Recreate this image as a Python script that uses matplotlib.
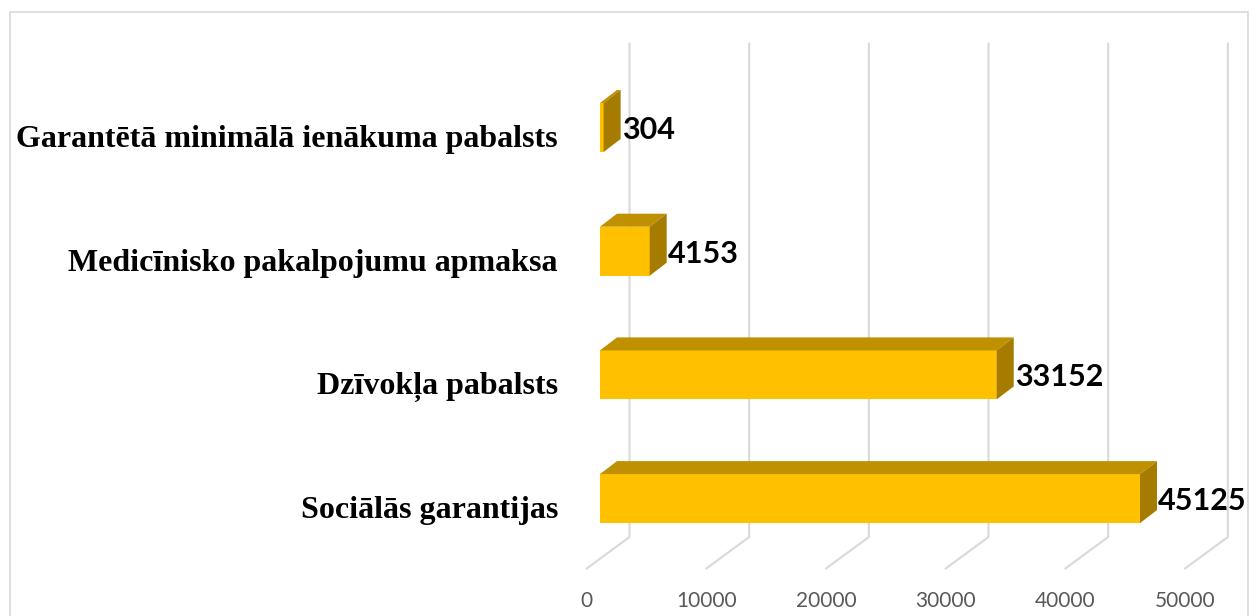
import matplotlib
matplotlib.use("Agg")
import matplotlib.pyplot as plt
from matplotlib.patches import Rectangle, Polygon

# ---- data ----
categories = ["Sociālās garantijas", "Dzīvokļa pabalsts",
              "Medicīnisko pakalpojumu apmaksa", "Garantētā minimālā ienākuma pabalsts"]
values = [45125, 33152, 4153, 304]
ticks = [0, 10000, 20000, 30000, 40000, 50000]
tick_labels = ["0", "10000", "20000", "30000", "40000", "50000"]

# ---- geometry (pixels) ----
W, H = 1252, 616
X0, SX = 600.0, 540.0 / 45125      # value 0 at x=600 px (front face)
Y0, SY = 498.6, 123.7              # category 0 centre (image y) and spacing
HALF = 24.5 / SY                   # half bar height in category units
BAR_DX, BAR_DY = 17.0, 13.0        # bar depth offset (px, right/up)
WALL_DX = 29.5                     # back wall offset
FLOOR_FRONT_DX = -14.0

fig = plt.figure(figsize=(W / 100, H / 100), dpi=100)
ax = fig.add_axes([0, 0, 1, 1])
ax.set_xlim((0 - X0) / SX, (W - X0) / SX)
ax.set_ylim((Y0 - H) / SY, Y0 / SY)
ax.axis("off")

def px2i(y_img):
    return (Y0 - y_img) / SY

grid_c = "#D9D9D9"
# back wall gridlines + floor diagonals
for t in ticks:
    xb = t + WALL_DX / SX
    xf = t + FLOOR_FRONT_DX / SX
    ax.plot([xb, xb, xf], [px2i(42.7), px2i(537), px2i(569)],
            color=grid_c, lw=1.5, solid_capstyle="butt", zorder=1)

# tick labels
for t, lab in zip(ticks, tick_labels):
    ax.text(t + (FLOOR_FRONT_DX + 0.5) / SX, px2i(607), lab, ha="center", va="baseline",
            fontsize=15, family="Lato", color="#595959", zorder=5)

front_c, top_c, side_c = "#FFC000", "#BF9000", "#A67C00"
ddx, ddy = BAR_DX / SX, BAR_DY / SY
for i, (cat, v) in enumerate(zip(categories, values)):
    lo, hi = i - HALF, i + HALF
    ax.add_patch(Rectangle((0, lo), v, hi - lo, facecolor=front_c, edgecolor="none", zorder=3))
    ax.add_patch(Polygon([(0, hi), (v, hi), (v + ddx, hi + ddy), (ddx, hi + ddy)],
                         closed=True, facecolor=top_c, edgecolor="none", zorder=3))
    ax.add_patch(Polygon([(v, lo), (v + ddx, lo + ddy), (v + ddx, hi + ddy), (v, hi)],
                         closed=True, facecolor=side_c, edgecolor="none", zorder=3))
    # value label
    ax.text(v + (BAR_DX + 1) / SX, i - 11.4 / SY, str(v), ha="left", va="baseline",
            fontsize=22, family="Lato", fontweight="bold", color="black", zorder=6)
    # category label
    ax.text((558 - X0) / SX, i - 19.5 / SY, cat, ha="right", va="baseline",
            fontsize=23, family="Liberation Serif", fontweight="bold", color="black", zorder=6)

# chart frame
fig.add_artist(Rectangle((10 / W, -0.1), (1248 - 10) / W, (H - 12) / H + 0.1,
                         transform=fig.transFigure, fill=False, edgecolor=grid_c, lw=1.2))

fig.savefig("out.png", dpi=100, facecolor="white")
